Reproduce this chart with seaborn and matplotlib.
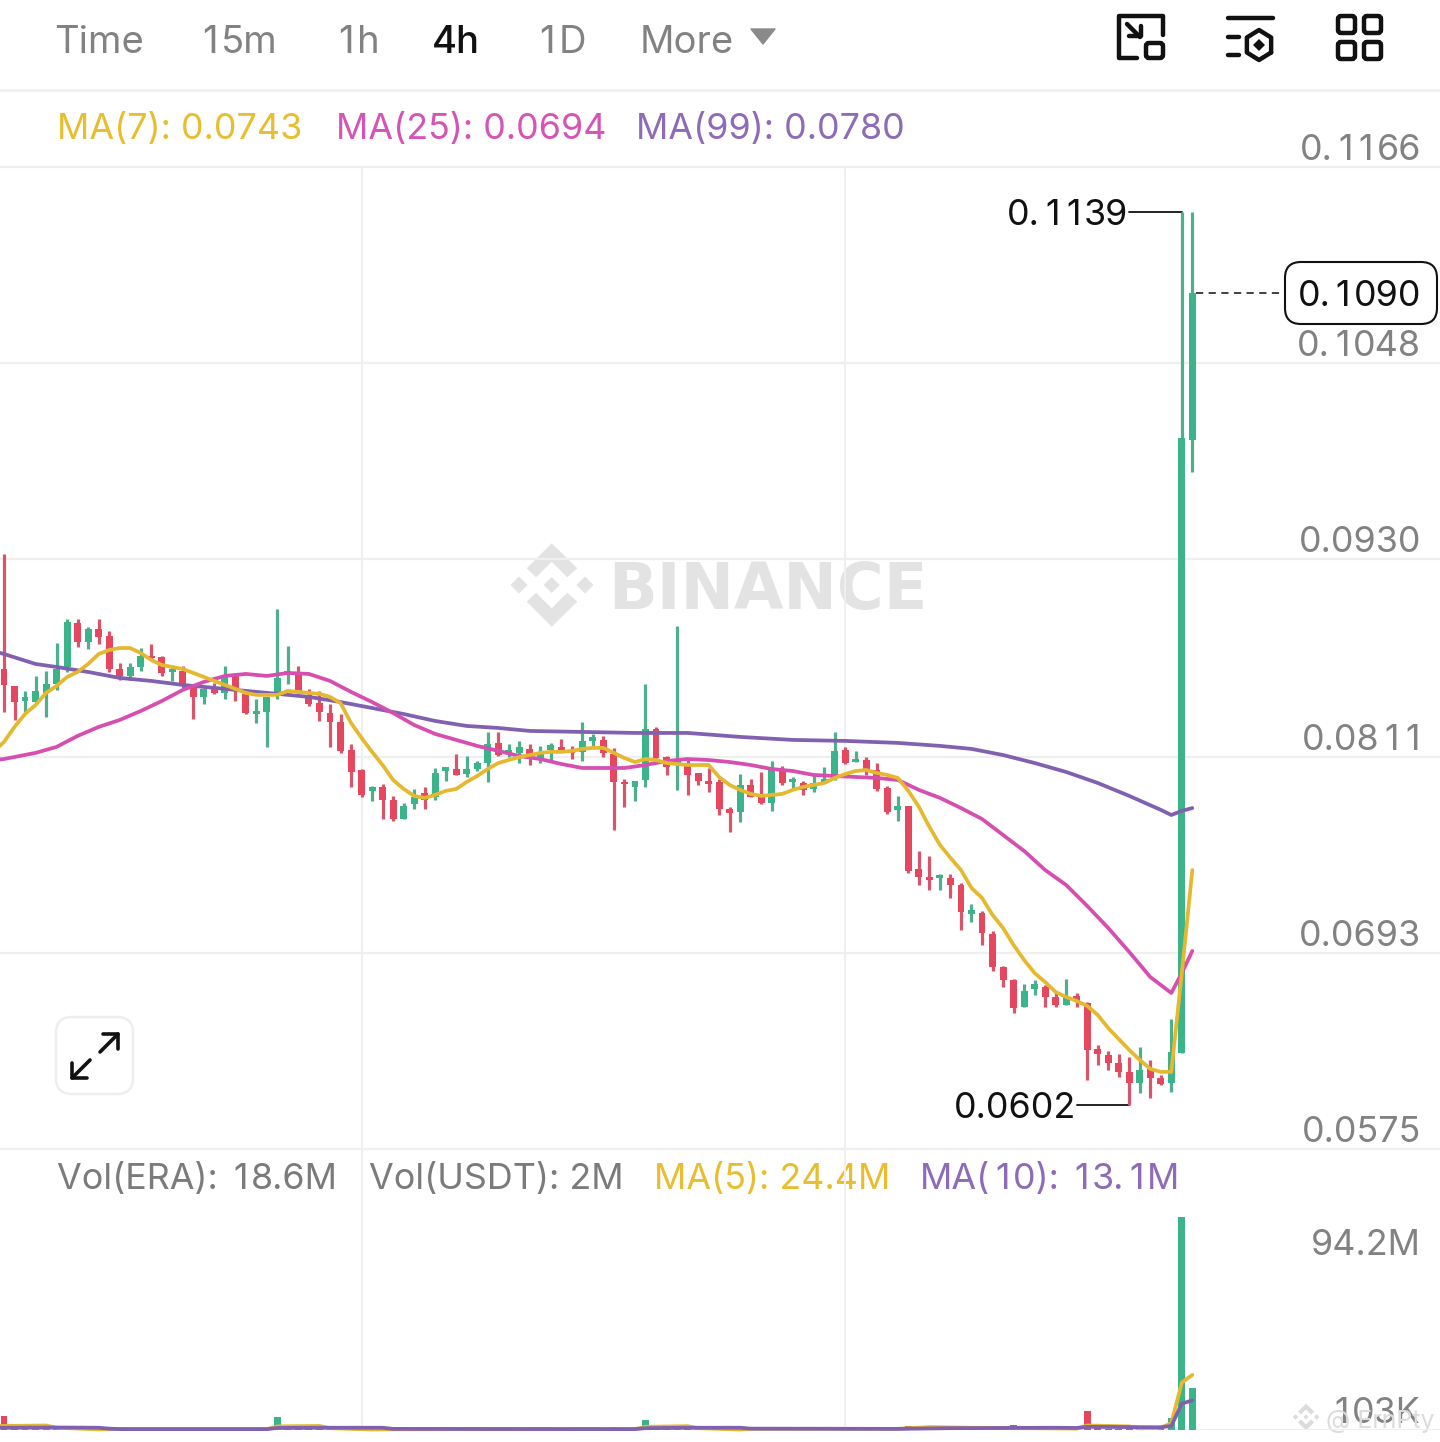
import re

import matplotlib

matplotlib.use("Agg")

import matplotlib.pyplot as plt
import numpy as np
import seaborn as sns
from matplotlib.patches import FancyBboxPatch, Polygon

sns.set_theme(style="white")
plt.rcParams["font.family"] = ["Inter", "DejaVu Sans"]

# Candles.
highs = [
	.09331, .08537, .08507, .08597, .08627, .08795, .08940, .08940, .08892, .08940,
	.08868, .08675, .08675, .08765, .08789, .08717, .08657, .08657, .08543, .08525,
	.08555, .08657, .08615, .08495, .08458, .08471, .09000, .08777, .08657, .08519,
	.08507, .08428, .08368, .08188, .08037, .07935, .07947, .07875, .07833, .07917,
	.07929, .08043, .08049, .08128, .08115, .08085, .08260, .08260, .08188, .08206,
	.08188, .08176, .08194, .08218, .08176, .08320, .08248, .08236, .08164, .07977,
	.07965, .08549, .08290, .08115, .08898, .08091, .08013, .08043, .07977, .07809,
	.08007, .07977, .08019, .08085, .08055, .07989, .07965, .08001, .08049, .08260,
	.08170, .08146, .08109, .08073, .07935, .07875, .07815, .07544, .07513, .07405,
	.07405, .07351, .07225, .07183, .07062, .06851, .06773, .06743, .06767, .06737,
	.06695, .06773, .06689, .06635, .06376, .06340, .06322, .06304, .06364, .06286,
	.06196, .06532, .11389, .11389,
]
lows = [
	.08380, .08332, .08380, .08434, .08350, .08513, .08621, .08771, .08759, .08789,
	.08621, .08573, .08573, .08627, .08693, .08597, .08567, .08525, .08338, .08428,
	.08489, .08458, .08446, .08368, .08314, .08170, .08458, .08549, .08495, .08416,
	.08326, .08170, .08134, .07929, .07869, .07845, .07736, .07724, .07736, .07797,
	.07797, .07851, .07965, .08001, .07989, .08025, .07959, .08115, .08109, .08073,
	.08061, .08073, .08091, .08140, .08097, .08085, .08176, .08109, .07670, .07809,
	.07845, .07929, .08091, .08001, .07911, .07881, .07941, .07899, .07760, .07658,
	.07718, .07869, .07827, .07785, .07941, .07917, .07881, .07899, .07953, .07971,
	.08067, .08079, .08001, .07905, .07766, .07724, .07411, .07339, .07309, .07309,
	.07261, .07068, .07116, .06978, .06821, .06725, .06569, .06605, .06677, .06605,
	.06605, .06617, .06605, .06166, .06256, .06226, .06184, .06015, .06087, .06057,
	.06135, .06093, .06328, .09824,
]
opens = [
	.08639, .08537, .08446, .08440, .08495, .08549, .08651, .08916, .08801, .08880,
	.08838, .08639, .08597, .08651, .08717, .08711, .08621, .08627, .08525, .08471,
	.08525, .08495, .08603, .08489, .08368, .08380, .08495, .08609, .08615, .08483,
	.08434, .08374, .08320, .08152, .08031, .07905, .07929, .07851, .07736, .07827,
	.07893, .07869, .08025, .08037, .08007, .08037, .08073, .08194, .08128, .08134,
	.08158, .08103, .08152, .08170, .08152, .08140, .08206, .08212, .08128, .07959,
	.07929, .07971, .08278, .08109, .08073, .08055, .08013, .07965, .07959, .07797,
	.07778, .07941, .07869, .07833, .08037, .07959, .07953, .07917, .07959, .07983,
	.08152, .08079, .08091, .08031, .07923, .07791, .07815, .07435, .07387, .07381,
	.07381, .07339, .07165, .07171, .07044, .06845, .06767, .06605, .06713, .06725,
	.06665, .06617, .06671, .06629, .06352, .06316, .06268, .06214, .06147, .06232,
	.06178, .06147, .06328, .10017,
]
closes = [
	.08543, .08440, .08471, .08507, .08549, .08639, .08922, .08801, .08880, .08831,
	.08639, .08597, .08651, .08717, .08705, .08615, .08639, .08537, .08471, .08519,
	.08495, .08603, .08513, .08374, .08386, .08471, .08585, .08627, .08495, .08428,
	.08380, .08320, .08146, .08019, .07881, .07929, .07851, .07736, .07815, .07869,
	.07851, .08013, .08049, .08001, .08037, .08073, .08188, .08121, .08152, .08170,
	.08097, .08140, .08182, .08146, .08134, .08206, .08230, .08134, .07959, .07947,
	.07965, .08278, .08103, .08049, .08097, .08001, .07965, .07947, .07797, .07772,
	.07941, .07869, .07833, .08043, .07953, .07977, .07911, .07953, .07977, .08146,
	.08073, .08097, .08037, .07917, .07778, .07815, .07423, .07387, .07369, .07399,
	.07339, .07177, .07189, .07050, .06845, .06767, .06599, .06701, .06743, .06665,
	.06617, .06665, .06641, .06346, .06322, .06268, .06214, .06147, .06226, .06178,
	.06141, .06334, .10029, .10902,
]

# Moving averages on the price panel, starting one candle off the left edge.
ma7_idx = list(range(-1, 114))
ma7 = [
	.08140,
	.08200, .08290, .08368, .08422, .08495, .08537, .08591, .08621, .08669, .08729,
	.08753, .08765, .08765, .08735, .08693, .08663, .08651, .08639, .08615, .08591,
	.08567, .08543, .08519, .08495, .08483, .08483, .08483, .08507, .08501, .08495,
	.08489, .08471, .08434, .08314, .08224, .08140, .08061, .07971, .07917, .07875,
	.07863, .07881, .07905, .07917, .07959, .07995, .08037, .08073, .08091, .08109,
	.08121, .08134, .08140, .08140, .08146, .08158, .08164, .08164, .08134, .08103,
	.08079, .08097, .08091, .08073, .08067, .08061, .08061, .08061, .07989, .07941,
	.07911, .07887, .07875, .07881, .07887, .07911, .07929, .07941, .07953, .07983,
	.08007, .08025, .08031, .08013, .08001, .07983, .07905, .07809, .07688, .07580,
	.07502, .07429, .07321, .07261, .07159, .07080, .06978, .06888, .06809, .06755,
	.06695, .06665, .06641, .06611, .06557, .06478, .06412, .06346, .06286, .06232,
	.06214, .06214, .06809, .07429,
]
ma25_idx = [
	-1, 0, 3, 5, 7, 9, 11, 13, 15, 17, 19, 21, 23, 25, 27, 29, 31, 33, 35, 37, 39, 41,
	43, 45, 47, 49, 51, 53, 55, 57, 59, 61, 63, 65, 67, 69, 71, 73, 75, 77, 79, 81,
	83, 85, 87, 89, 91, 93, 95, 97, 99, 101, 103, 105, 107, 109, 110, 111, 112, 113,
]
ma25 = [
	.08091,
	.08097, .08134, .08170, .08236, .08290, .08332, .08386, .08446, .08513, .08561,
	.08597, .08609, .08597, .08615, .08609, .08567, .08501, .08440, .08374, .08302,
	.08248, .08212, .08176, .08146, .08115, .08097, .08067, .08043, .08043, .08043,
	.08061, .08085, .08097, .08091, .08079, .08061, .08037, .08025, .08001, .07995,
	.07989, .07983, .07971, .07911, .07863, .07802, .07736, .07640, .07544, .07429,
	.07339, .07213, .07080, .06936, .06785, .06737, .06689, .06809, .06942,
]
ma99_idx = [
	-1, 0, 3, 5, 8, 11, 14, 17, 20, 23, 26, 29, 32, 35, 38, 41, 44, 47, 50, 55, 60, 65,
	70, 75, 80, 85, 89, 92, 95, 98, 101, 104, 107, 110, 111, 112, 113,
]
ma99 = [
	.08747,
	.08729, .08669, .08651, .08621, .08585, .08567, .08543, .08525, .08507, .08489,
	.08471, .08440, .08404, .08368, .08326, .08296, .08284, .08266, .08260, .08254,
	.08254, .08230, .08212, .08206, .08194, .08176, .08158, .08121, .08073, .08019,
	.07953, .07875, .07791, .07760, .07785, .07802,
]

# Volume panel, in millions.
volumes = [
	6.4, 0.9, 0.5, 0.6, 0.7, 0.6, 0.9, 0.6, 0.5, 0.4,
	0.6, 0.4, 0.3, 0.4, 0.2, 0.4, 0.2, 0.4, 0.5, 0.3,
	0.2, 0.4, 0.5, 0.4, 0.3, 0.6, 5.8, 0.9, 0.7, 0.4,
	0.4, 0.5, 0.7, 0.5, 0.6, 0.2, 0.3, 0.3, 0.2, 0.2,
	0.2, 0.4, 0.2, 0.3, 0.2, 0.2, 0.5, 0.4, 0.2, 0.2,
	0.3, 0.2, 0.2, 0.2, 0.2, 0.5, 0.2, 0.4, 1.3, 0.4,
	0.2, 4.6, 0.8, 0.4, 2.0, 0.5, 0.3, 0.3, 0.5, 0.4,
	0.6, 0.3, 0.3, 0.5, 0.3, 0.2, 0.3, 0.2, 0.2, 0.6,
	0.3, 0.2, 0.3, 0.4, 0.5, 0.3, 1.6, 0.6, 1.6, 0.3,
	0.4, 0.6, 0.3, 0.9, 0.7, 0.6, 2.1, 0.6, 0.3, 0.5,
	0.4, 0.3, 0.2, 8.2, 0.7, 0.6, 0.5, 1.1, 0.9, 0.8,
	0.4, 5.3, 94.2, 18.6,
]
vol_ma5_idx = [
	-1, 0, 4, 5, 9, 11, 25, 26, 30, 31, 35, 36, 60, 61, 65, 66, 70, 71, 85, 88, 92, 102,
	103, 107, 108, 110, 111, 112, 113,
]
vol_ma5 = [
	1.8, 1.8, 2.0, 1.0, 0.3, 0.4, 0.4, 1.6, 1.8, 0.8, 0.2, 0.3, 0.4, 1.4, 1.7, 0.8, 0.2,
	0.5, 0.5, 1.3, 1.0, 0.6, 2.0, 1.6, 0.7, 1.0, 3.0, 21.0, 24.4,
]
vol_ma10_idx = [
	-1, 0, 5, 9, 10, 11, 25, 26, 30, 36, 37, 60, 61, 65, 70, 71, 85, 90, 100, 102, 103,
	110, 111, 112, 113,
]
vol_ma10 = [
	1.0, 1.0, 1.1, 1.0, 0.6, 0.4, 0.4, 0.9, 1.0, 1.0, 0.5, 0.4, 0.8, 1.0, 1.0, 0.6, 0.5,
	0.8, 1.0, 0.9, 1.4, 1.2, 1.8, 11.7, 13.1,
]

price_ticks = [0.1166, 0.1048, 0.0930, 0.0811, 0.0693, 0.0575]
price_tick_labels = ["0.1166", "0.1048", "0.0930", "0.0811", "0.0693", "0.0575"]
time_ticks = [34, 80]
interval_labels = ["Time", "15m", "1h", "4h", "1D", "More"]
price_legend = ["MA(7): 0.0743", "MA(25): 0.0694", "MA(99): 0.0780"]
vol_legend = ["Vol(ERA): 18.6M", "Vol(USDT): 2M", "MA(5): 24.4M", "MA(10): 13.1M"]

green = "#3cb489"
red = "#e5475f"
green_wick = "#4fae8c"
red_wick = "#d9556b"
yellow = "#e4b92f"
pink = "#d64fb0"
purple = "#8160b0"
grid_color = "#efefef"
gray_text = "#828282"
text_size = 25.8

W, H = 1440, 1442
fig = plt.figure(figsize=(W / 100, H / 100), dpi=100, facecolor="white")
renderer = fig.canvas.get_renderer()


def px_axes(top, bottom):
	return fig.add_axes([0, (H - bottom) / H, 1, (bottom - top) / H])


# Full-size layer in pixel coordinates for the app's text and icons.
bg = fig.add_axes([0, 0, 1, 1], zorder=0)
bg.set_xlim(0, W)
bg.set_ylim(H, 0)
bg.axis("off")

ax = px_axes(167, 1149)
vol_ax = px_axes(1149, 1430)
for a in (ax, vol_ax):
	a.set_zorder(1)
	a.patch.set_alpha(0)
	sns.despine(ax=a, left=True, bottom=True)
	a.set_xlim(-0.38, 136.55)
	a.set_xticks(time_ticks)
	a.set_xticklabels([])
	a.grid(True, axis="x", color=grid_color, linewidth=1.4)
	a.tick_params(length=0)
	a.set_axisbelow(True)

x = np.arange(len(closes))
o, c = np.array(opens), np.array(closes)
up = c >= o

ax.set_ylim(0.0575, 0.1166)
ax.set_yticks(price_ticks)
ax.set_yticklabels([])
ax.grid(True, axis="y", color=grid_color, linewidth=1.6)
for line in ax.get_ygridlines():
	line.set_clip_on(False)

ax.vlines(x[up], np.array(lows)[up], np.array(highs)[up], color=green_wick, linewidth=2.3, zorder=2)
ax.vlines(x[~up], np.array(lows)[~up], np.array(highs)[~up], color=red_wick, linewidth=2.3, zorder=2)
ax.bar(x, np.abs(c - o), bottom=np.minimum(o, c), width=0.66,
	color=[green if u else red for u in up], linewidth=0, zorder=3)

sns.lineplot(x=ma99_idx, y=ma99, color=purple, linewidth=2.7, ax=ax, zorder=4, errorbar=None)
sns.lineplot(x=ma25_idx, y=ma25, color=pink, linewidth=2.7, ax=ax, zorder=5, errorbar=None)
sns.lineplot(x=ma7_idx, y=ma7, color=yellow, linewidth=2.7, ax=ax, zorder=6, errorbar=None)
ax.set_xlim(-0.38, 136.55)
ax.set_ylim(0.0575, 0.1166)

vol_ax.set_ylim(0, 124.4)
vol_ax.set_yticks([0])
vol_ax.set_yticklabels([])
vol_ax.grid(True, axis="y", color=grid_color, linewidth=1.6)
vol_ax.bar(x, volumes, width=0.66, color=[green if u else red for u in up], linewidth=0, zorder=3)
sns.lineplot(x=vol_ma5_idx, y=vol_ma5, color=yellow, linewidth=2.7, ax=vol_ax, zorder=4,
	errorbar=None, clip_on=False)
sns.lineplot(x=vol_ma10_idx, y=vol_ma10, color=purple, linewidth=2.7, ax=vol_ax, zorder=5,
	errorbar=None, clip_on=False)
vol_ax.set_xlim(-0.38, 136.55)
vol_ax.set_ylim(0, 124.4)


def price_px(value):
	return H - ax.transData.transform((0, value))[1]


def candle_px(i):
	return ax.transData.transform((i, 0.08))[0]


def tab_text(px, py, s, color, size=text_size, ha="left", weight="normal"):
	# Inter's 1 is narrow; the app sets figures in equal-width cells.
	cell = 0.58 * size * 100 / 72
	parts = [p for p in re.split("(1)", s) if p]
	widths = []
	for part in parts:
		if part == "1":
			widths.append(cell)
		else:
			probe = bg.text(0, 0, part, fontsize=size, fontweight=weight)
			widths.append(probe.get_window_extent(renderer).width + 2)
			probe.remove()
	cur = px - sum(widths) + 2 if ha == "right" else px
	for part, width in zip(parts, widths):
		if part == "1":
			bg.text(cur + width / 2, py, part, color=color, fontsize=size, fontweight=weight,
				ha="center", va="center_baseline")
		else:
			bg.text(cur, py, part, color=color, fontsize=size, fontweight=weight,
				ha="left", va="center_baseline")
		cur += width


# Header row.
for label, px, col, wt in zip(
	interval_labels,
	[54, 199, 335, 432, 536, 640],
	[gray_text, gray_text, gray_text, "#111111", gray_text, gray_text],
	["normal", "normal", "normal", "medium", "normal", "normal"],
):
	tab_text(px, 39, label, col, size=27.5, weight=wt)
bg.add_patch(Polygon([(751, 29), (775, 29), (763, 44)], closed=True, color="#8a8a8a", joinstyle="round", lw=1))
bg.plot([0, W], [90, 90], color="#f1f1f1", lw=2)


def stroke(points, lw=3.2):
	xs, ys = zip(*points)
	bg.plot(xs, ys, color="#111111", lw=lw, solid_capstyle="round", solid_joinstyle="round")


def box(x0, y0, x1, y1, edge="#111111", lw=3.2, pad=3):
	bg.add_patch(FancyBboxPatch((x0, y0), x1 - x0, y1 - y0, boxstyle=f"round,pad=0,rounding_size={pad}",
		facecolor="none", edgecolor=edge, linewidth=lw))


def logo(cx, cy, scale, color):
	# Exchange logo: two chevrons and three small diamonds.
	top_mark = [(0, -41.7), (25.6, -16.7), (15.6, -7.7), (0, -23.3), (-15.7, -7.7), (-25, -16.7)]
	bg.add_patch(Polygon([(cx + mx * scale, cy + my * scale) for mx, my in top_mark], closed=True, color=color, lw=0))
	bg.add_patch(Polygon([(cx + mx * scale, cy - my * scale) for mx, my in top_mark], closed=True, color=color, lw=0))
	for dx, r in ((0, 8), (-32.7, 8.5), (33.3, 8.5)):
		mx, r = cx + dx * scale, r * scale
		bg.add_patch(Polygon([(mx, cy - r), (mx + r, cy), (mx, cy + r), (mx - r, cy)], closed=True, color=color, lw=0))


# Header icons.
stroke([(1163, 35), (1163, 16), (1119, 16), (1119, 58), (1137, 58)])
box(1146, 43, 1163, 58)
stroke([(1127, 24), (1140, 37)])
stroke([(1141, 26), (1141, 36), (1129, 36)])
stroke([(1228, 18), (1273, 18)])
stroke([(1228, 37), (1239, 37)])
stroke([(1228, 55), (1239, 55)])
hex_angles = np.deg2rad(np.arange(30, 391, 60))
stroke(list(zip(1259 + 14 * np.cos(hex_angles), 45 + 15 * np.sin(hex_angles))))
bg.add_patch(Polygon([(1259, 39), (1265, 45), (1259, 51), (1253, 45)], closed=True, color="#111111", lw=0))
for bx in (1338, 1364):
	for by in (16, 42):
		box(bx, by, bx + 17, by + 17)

# Watermark.
wm = "#e3e3e3"
bg.text(608, 585, "BINANCE", color=wm, fontsize=46, fontweight="bold", family="DejaVu Sans",
	ha="left", va="center_baseline")
logo(551.7, 585, 1, wm)

# Legends above each panel.
for label, px, col in zip(price_legend, [57, 336, 636], ["#e8be30", "#d455b5", "#8d6bb8"]):
	tab_text(px, 126, label, col)
for label, px, col in zip(vol_legend, [57, 369, 654, 920], ["#7b7b7b", "#7b7b7b", "#e8be30", "#8d6bb8"]):
	tab_text(px, 1176, label, col)

# Scale labels sit just above their gridlines.
for label, value in zip(price_tick_labels, price_ticks):
	tab_text(1421, price_px(value) - 20, label, gray_text, ha="right")
tab_text(1421, 1242, "94.2M", gray_text, ha="right")
tab_text(1421, 1410, "103K", gray_text, ha="right")

# High, low and last price markers.
high_y, low_y = price_px(highs[112]), price_px(lows[107])
tab_text(1128, high_y, "0.1139", "#111111", ha="right")
bg.plot([1129, candle_px(112)], [high_y, high_y], color="#111111", lw=1.3)
tab_text(1076, low_y, "0.0602", "#111111", ha="right")
bg.plot([1077, candle_px(107)], [low_y, low_y], color="#111111", lw=1.3)
last_y = price_px(closes[113])
bg.plot([1196, 1284], [last_y, last_y], color="#333333", lw=1.3, dashes=(4, 3))
bg.add_patch(FancyBboxPatch((1285, 262), 152, 62, boxstyle="round,pad=0,rounding_size=16",
	facecolor="white", edgecolor="#111111", linewidth=1.5))
tab_text(1421, last_y, "0.1090", "#111111", ha="right")

# Expand button.
bg.add_patch(FancyBboxPatch((56, 1017), 77, 77, boxstyle="round,pad=0,rounding_size=16",
	facecolor="white", edgecolor="#eeeeee", linewidth=1.8))
stroke([(100, 1052), (118, 1034)], lw=2.6)
stroke([(103, 1034), (118, 1034), (118, 1049)], lw=2.6)
stroke([(90, 1060), (72, 1078)], lw=2.6)
stroke([(72, 1063), (72, 1078), (87, 1078)], lw=2.6)

# Reposter watermark at the bottom right.
mark = "#dcdcdc"
logo(1306, 1417, 0.32, mark)
bg.text(1326, 1419, "@ ErnPty", color=mark, fontsize=18, ha="left", va="center_baseline", zorder=5)

fig.savefig("out.png", dpi=100, facecolor="white")
plt.close(fig)
